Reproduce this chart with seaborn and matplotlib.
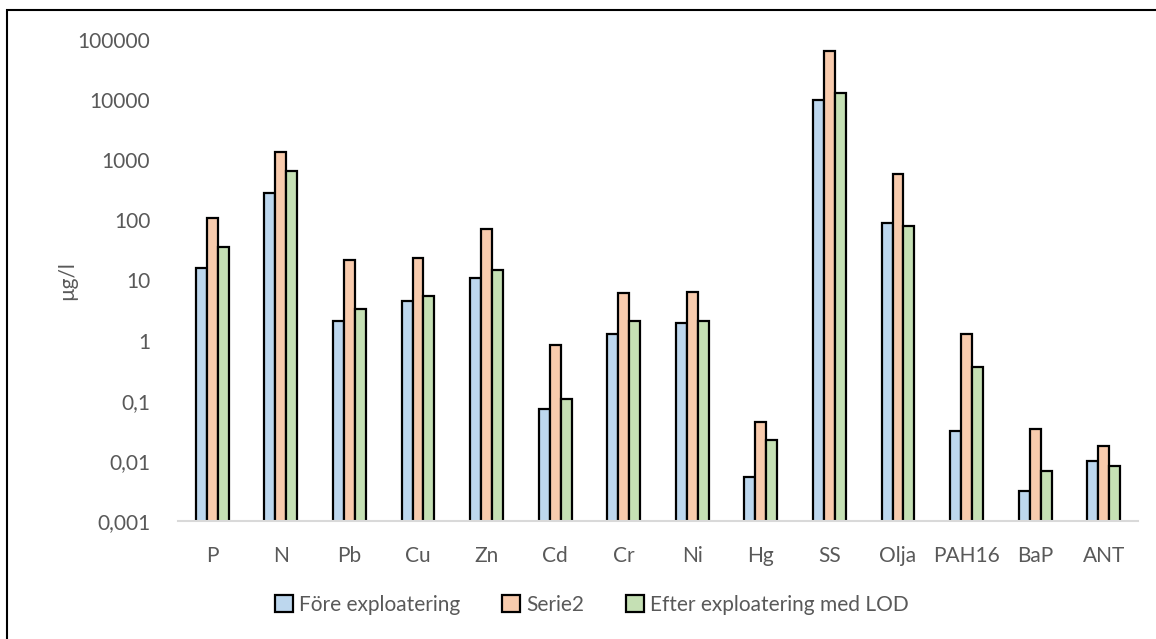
import matplotlib
matplotlib.use("Agg")
import matplotlib.pyplot as plt
import seaborn as sns
import pandas as pd
from matplotlib.patches import Rectangle, Patch

# Parameters (x axis) and measured concentrations (µg/l)
categories = ["P", "N", "Pb", "Cu", "Zn", "Cd", "Cr", "Ni", "Hg", "SS", "Olja", "PAH16", "BaP", "ANT"]
fore = [16, 288, 2.1, 4.6, 11, 0.072, 1.29, 2.0, 0.0054, 10200, 91, 0.032, 0.0032, 0.0098]
serie2 = [110, 1380, 22, 24, 72, 0.83, 6.2, 6.5, 0.045, 66000, 600, 1.29, 0.034, 0.0178]
efter = [36, 665, 3.4, 5.5, 15, 0.107, 2.15, 2.15, 0.0224, 13200, 81, 0.36, 0.0068, 0.0082]
series_names = ["Före exploatering", "Serie2", "Efter exploatering med LOD"]
y_ticks = [0.001, 0.01, 0.1, 1, 10, 100, 1000, 10000, 100000]
y_ticklabels = ["0,001", "0,01", "0,1", "1", "10", "100", "1000", "10000", "100000"]

colors = ["#BDD7EE", "#F8CBAD", "#C5E0B4"]

df = pd.DataFrame({
    "kategori": categories * 3,
    "serie": [series_names[0]] * len(categories) + [series_names[1]] * len(categories) + [series_names[2]] * len(categories),
    "varde": fore + serie2 + efter,
})

sns.set_theme(style="white")
plt.rcParams["font.family"] = ["Lato", "DejaVu Sans"]

fig = plt.figure(figsize=(11.56, 6.39), dpi=100)
ax = fig.add_axes([178 / 1156, 1 - 521 / 639, 960 / 1156, 481 / 639])

sns.barplot(
    data=df, x="kategori", y="varde", hue="serie", order=categories,
    hue_order=series_names, palette=colors, width=0.48, gap=0,
    edgecolor="black", linewidth=1.6, saturation=1, ax=ax, legend=False,
)
ax.set_yscale("log")
ax.set_ylim(0.001, 100000)
ax.set_yticks(y_ticks)
ax.set_yticklabels(y_ticklabels)
ax.minorticks_off()
ax.set_xlim(-0.5, len(categories) - 0.5)

for s in ["top", "right", "left"]:
    ax.spines[s].set_visible(False)
ax.spines["bottom"].set_color("#D9D9D9")
ax.spines["bottom"].set_linewidth(1.5)
ax.tick_params(axis="both", length=0, labelsize=15, labelcolor="#595959")
ax.tick_params(axis="x", pad=18)
ax.tick_params(axis="y", pad=20)
ax.set_xlabel("")
ax.set_ylabel("µg/l", fontsize=15, color="#595959")
ax.yaxis.set_label_coords(-0.105, 0.5)

handles = [Patch(facecolor=c, edgecolor="black", linewidth=1.6) for c in colors]
fig.legend(handles, series_names, loc="center", bbox_to_anchor=(592 / 1156, 1 - 605 / 639),
           ncol=3, frameon=False, fontsize=15, labelcolor="#595959",
           handlelength=0.85, handleheight=0.85, handletextpad=0.3, columnspacing=2.0)

# Outer chart frame
fig.patches.append(Rectangle((7 / 1156, -0.05), 1.1, 1 - 10 / 639 + 0.05,
                             transform=fig.transFigure, fill=False,
                             edgecolor="black", linewidth=1.5))

fig.savefig("out.png", dpi=100)
